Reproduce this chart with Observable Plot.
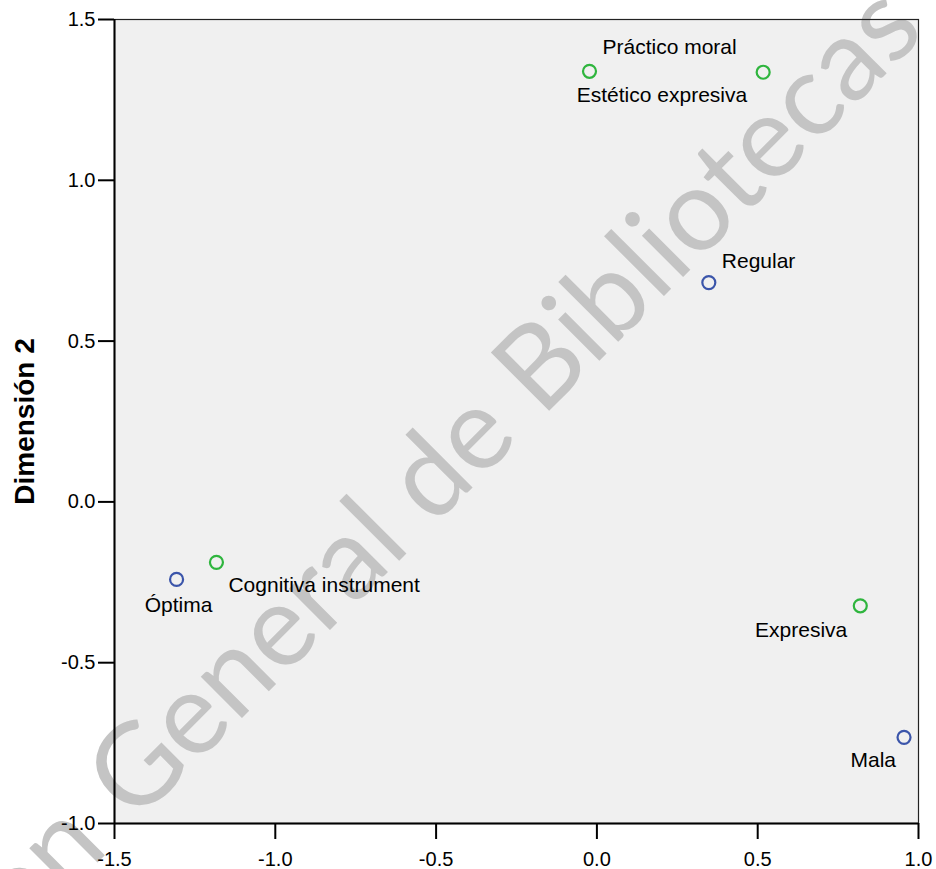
<!DOCTYPE html>
<html>
<head>
<meta charset="utf-8">
<script src="https://cdn.jsdelivr.net/npm/d3@7"></script>
<script src="https://cdn.jsdelivr.net/npm/@observablehq/plot@0.6"></script>
<style>
  html, body { margin: 0; padding: 0; background: #ffffff; }
  #chart svg { display: block; }
</style>
</head>
<body>
<div id="chart"></div>
<script>
// ---- data ----
const rowCategories = ["Óptima", "Regular", "Mala"];
const rowDim1 = [-1.307, 0.348, 0.955];
const rowDim2 = [-0.241, 0.682, -0.732];

const colCategories = ["Cognitiva instrument", "Práctico moral", "Estético expresiva", "Expresiva"];
const colDim1 = [-1.183, -0.023, 0.517, 0.819];
const colDim2 = [-0.188, 1.339, 1.336, -0.323];

const xTicks = [-1.5, -1.0, -0.5, 0.0, 0.5, 1.0];
const yTicks = [-1.0, -0.5, 0.0, 0.5, 1.0, 1.5];
const yTitle = "Dimensión 2";
const watermarkWords = ["Dirección", "General de Bibliotecas"];

// ---- tables built from the arrays ----
const rowPoints = rowCategories.map((name, i) => ({name, d1: rowDim1[i], d2: rowDim2[i]}));
const colPoints = colCategories.map((name, i) => ({name, d1: colDim1[i], d2: colDim2[i]}));

// label placement (layout only: pixel offsets from each point)
const placement = {
  "Óptima":               {dx: 2,   dy: 26,  anchor: "middle"},
  "Regular":              {dx: 13,  dy: -21, anchor: "start"},
  "Mala":                 {dx: -8,  dy: 23,  anchor: "end"},
  "Cognitiva instrument": {dx: 12,  dy: 23,  anchor: "start"},
  "Práctico moral":       {dx: 13,  dy: -24, anchor: "start"},
  "Estético expresiva":   {dx: -16, dy: 23,  anchor: "end"},
  "Expresiva":            {dx: -13, dy: 24,  anchor: "end"}
};

const BLUE = "#3b55aa";
const GREEN = "#2fb53e";
const fmt = d => d.toFixed(1);

const labelMarks = [...rowPoints, ...colPoints].map(p => {
  const pl = placement[p.name];
  return Plot.text([p], {
    x: "d1", y: "d2", text: "name",
    dx: pl.dx, dy: pl.dy, textAnchor: pl.anchor, lineAnchor: "middle",
    fontSize: 21, fill: "#000"
  });
});

const plot = Plot.plot({
  width: 936,
  height: 869,
  marginLeft: 114,
  marginRight: 18,
  marginTop: 19,
  marginBottom: 46,
  style: {fontFamily: "'Liberation Sans', Arial, sans-serif", background: "#ffffff", color: "#000", overflow: "visible"},
  x: {domain: [-1.5, 1.0]},
  y: {domain: [-1.0, 1.5]},
  marks: [
    Plot.frame({fill: "#f0f0f0", stroke: null}),
    Plot.frame({stroke: "#222", strokeWidth: 1.2}),
    Plot.axisY(yTicks, {tickSize: 16, tickPadding: 3, strokeWidth: 2, fontSize: 20, tickFormat: fmt, label: null}),
    Plot.axisX(xTicks, {tickSize: 16, tickPadding: 12, strokeWidth: 2, fontSize: 20, tickFormat: fmt, label: null}),
    Plot.ruleX([-1.5], {stroke: "#000", strokeWidth: 2}),
    Plot.ruleY([-1.0], {stroke: "#000", strokeWidth: 2}),
    Plot.text([yTitle], {frameAnchor: "left", dx: -89, rotate: -90, text: d => d,
      fontWeight: "bold", fontSize: 28, lineAnchor: "middle", textAnchor: "middle", fill: "#000"}),
    Plot.dot(rowPoints, {x: "d1", y: "d2", r: 6.5, stroke: BLUE, strokeWidth: 2.2, fill: "none"}),
    Plot.dot(colPoints, {x: "d1", y: "d2", r: 6.5, stroke: GREEN, strokeWidth: 2.2, fill: "none"}),
    ...labelMarks
  ]
});

document.getElementById("chart").appendChild(plot);

// watermark, drawn behind marks but above the plot background
const svg = plot.tagName.toLowerCase() === "svg" ? plot : plot.querySelector("svg");
const frameFill = svg.querySelector('[aria-label="frame"]');
const wm = d3.create("svg:g")
  .attr("transform", "translate(135,825) rotate(-45)")
  .attr("fill", "#c4c4c4")
  .style("font-family", "Lato, 'Open Sans', sans-serif")
  .style("font-size", "115px");
wm.append("text").attr("text-anchor", "start")
  .attr("textLength", 1120).attr("lengthAdjust", "spacingAndGlyphs")
  .text(watermarkWords[1]);
wm.append("text").attr("text-anchor", "end").attr("x", -35).text(watermarkWords[0]);
if (frameFill) frameFill.after(wm.node()); else svg.insertBefore(wm.node(), svg.firstChild);
</script>
</body>
</html>
